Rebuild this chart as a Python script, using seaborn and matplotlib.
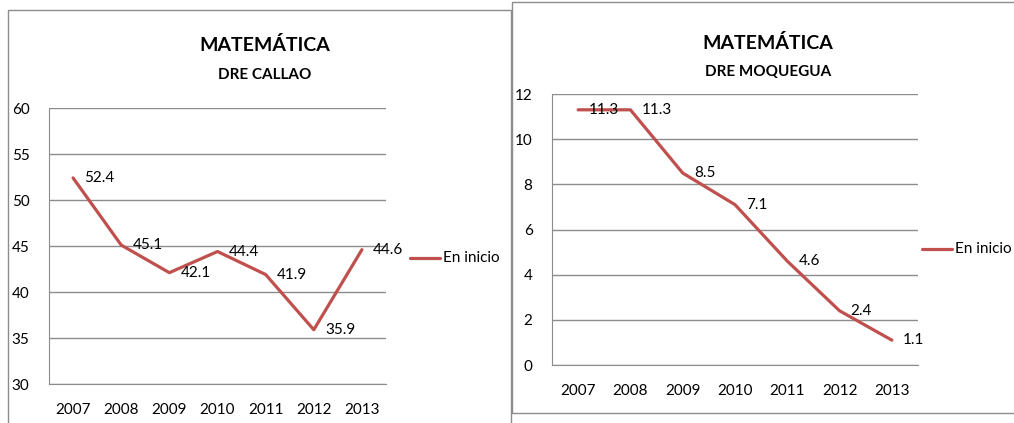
import matplotlib
matplotlib.use('Agg')
import matplotlib.pyplot as plt
import seaborn as sns
import pandas as pd
from matplotlib.patches import Rectangle

# datos
anios = ['2007', '2008', '2009', '2010', '2011', '2012', '2013']
callao = [52.4, 45.1, 42.1, 44.4, 41.9, 35.9, 44.6]
moquegua = [11.3, 11.3, 8.5, 7.1, 4.6, 2.4, 1.1]
serie = 'En inicio'

sns.set_style('white')
plt.rcParams['font.family'] = ['Lato', 'DejaVu Sans']
plt.rcParams['text.color'] = 'black'
plt.rcParams['xtick.color'] = 'black'
plt.rcParams['ytick.color'] = 'black'

rojo = '#C0504D'
gris = '#8C8C8C'
fs = 11

fig = plt.figure(figsize=(10.14, 4.23), dpi=100)

# marcos de cada grafico
fig.add_artist(Rectangle((8 / 1014, -0.05), 503 / 1014, 1 - 10 / 423 + 0.05,
                         transform=fig.transFigure, fill=False, edgecolor=gris, lw=1))
fig.add_artist(Rectangle((512 / 1014, 1 - 413 / 423), 0.6, 411 / 423,
                         transform=fig.transFigure, fill=False, edgecolor=gris, lw=1))


def dibujar(ax, valores, ymin, ymax, paso, subtitulo, tx, ty1, ty2, legx, legy, fig):
    df = pd.DataFrame({'anio': anios, 'valor': valores})
    sns.lineplot(data=df, x='anio', y='valor', ax=ax, color=rojo, lw=2.3, sort=False)
    for i, v in enumerate(valores):
        ax.annotate(f'{v:.1f}', (i, v), xytext=(8, 0), textcoords='offset points',
                    ha='left', va='center', fontsize=fs)
    ax.set_xlim(-0.5, 6.5)
    ax.set_ylim(ymin, ymax)
    ax.set_yticks(range(ymin, ymax + 1, paso))
    ax.yaxis.grid(True, color=gris, lw=1)
    ax.set_axisbelow(True)
    for s in ['top', 'right']:
        ax.spines[s].set_visible(False)
    for s in ['left', 'bottom']:
        ax.spines[s].set_color(gris)
    ax.tick_params(axis='both', length=0, labelsize=fs)
    ax.tick_params(axis='x', pad=14)
    ax.tick_params(axis='y', pad=14)
    ax.set_xlabel('')
    ax.set_ylabel('')
    fig.text(tx, ty1, 'MATEMÁTICA', ha='center', va='center', fontsize=14, fontweight='bold')
    fig.text(tx, ty2, subtitulo, ha='center', va='center', fontsize=11, fontweight='bold')
    # leyenda
    fig.add_artist(plt.Line2D([legx, legx + 30 / 1014], [legy, legy], color=rojo, lw=2.3,
                              transform=fig.transFigure))
    fig.text(legx + 33 / 1014, legy, serie, ha='left', va='center', fontsize=fs)


ax1 = fig.add_axes([49 / 1014, 1 - 384 / 423, 337 / 1014, 276 / 423])
dibujar(ax1, callao, 30, 60, 5, 'DRE CALLAO', 265 / 1014, 1 - 45 / 423, 1 - 75 / 423,
        410 / 1014, 1 - 258 / 423, fig)

ax2 = fig.add_axes([552 / 1014, 1 - 365 / 423, 366 / 1014, 271 / 423])
dibujar(ax2, moquegua, 0, 12, 2, 'DRE MOQUEGUA', 768 / 1014, 1 - 43 / 423, 1 - 72 / 423,
        922 / 1014, 1 - 249 / 423, fig)

fig.savefig('out.png', dpi=100)
